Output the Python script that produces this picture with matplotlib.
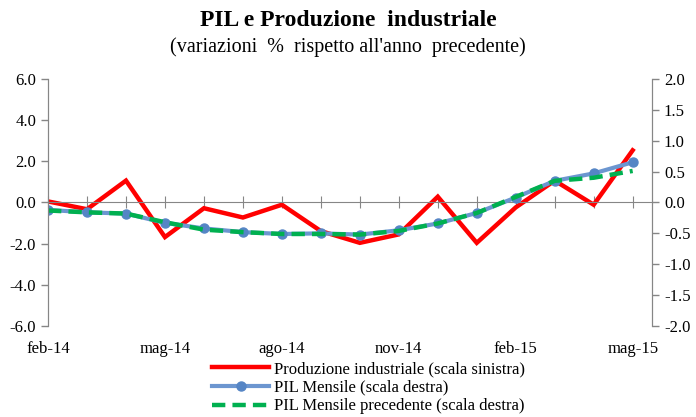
import matplotlib.pyplot as plt
import numpy as np

mesi = ["feb-14", "mar-14", "apr-14", "mag-14", "giu-14", "lug-14", "ago-14", "set-14",
        "ott-14", "nov-14", "dic-14", "gen-15", "feb-15", "mar-15", "apr-15", "mag-15"]
produzione = [0.05, -0.33, 1.06, -1.68, -0.28, -0.73, -0.11, -1.39,
              -1.96, -1.55, 0.28, -1.96, -0.24, 1.06, -0.11, 2.53]
pil = [-0.12, -0.16, -0.18, -0.33, -0.42, -0.48, -0.51, -0.50,
       -0.52, -0.45, -0.34, -0.17, 0.08, 0.35, 0.47, 0.65]
pil_prec = [-0.13, -0.16, -0.18, -0.32, -0.44, -0.48, -0.51, -0.51,
            -0.52, -0.46, -0.34, -0.17, 0.09, 0.35, 0.40, 0.51]

plt.rcParams["font.family"] = ["Liberation Serif", "DejaVu Serif"]
grigio = "#868686"

fig = plt.figure(figsize=(6.96, 4.17), dpi=100)
ax = fig.add_axes([0.069, 0.218, 0.868, 0.593])
ax2 = ax.twinx()
x = np.arange(len(mesi))

l1, = ax.plot(x, produzione, color="#FF0000", lw=3.2, solid_joinstyle="miter",
              label="Produzione industriale (scala sinistra)")
l2, = ax2.plot(x, pil, color="#6C96D0", lw=3, marker="o", ms=6.5,
               markerfacecolor="#5585C5", markeredgecolor="#5585C5",
               label="PIL Mensile (scala destra)")
l3, = ax2.plot(x, pil_prec, color="#00B050", lw=3.2, dashes=(3, 1.6),
               label="PIL Mensile precedente (scala destra)")

ax.set_xlim(0, 15.5)
ax.set_ylim(-6, 6)
ax2.set_ylim(-2, 2)
ax.set_yticks(np.arange(-6, 6.1, 2))
ax2.set_yticks(np.arange(-2, 2.01, 0.5))
ax.set_yticklabels([f"{v:.1f}" for v in np.arange(-6, 6.1, 2)])
ax2.set_yticklabels([f"{v:.1f}" for v in np.arange(-2, 2.01, 0.5)])

for a in (ax, ax2):
    a.spines["top"].set_visible(False)
    a.spines["left"].set_color(grigio)
    a.spines["right"].set_color(grigio)
    a.spines["bottom"].set_visible(False)
    a.tick_params(axis="y", colors=grigio, labelcolor="black", labelsize=12,
                  length=5, width=1)
ax.spines["bottom"].set_visible(True)
ax.spines["bottom"].set_position(("data", 0))
ax.spines["bottom"].set_color(grigio)
ax.set_xticks(x)
ax.tick_params(axis="x", direction="inout", length=8, colors=grigio,
               labelbottom=False)

sec = ax.secondary_xaxis("bottom")
sec.set_xticks(x[::3])
sec.set_xticklabels(mesi[::3])
sec.spines["bottom"].set_visible(False)
sec.tick_params(axis="x", length=0, pad=11, labelsize=12)

fig.text(0.5, 0.95, "PIL e Produzione  industriale", ha="center", va="center",
         fontsize=17, fontweight="bold")
fig.text(0.5, 0.886, "(variazioni  %  rispetto all'anno  precedente)", ha="center",
         va="center", fontsize=14.5)

fig.legend(handles=[l1, l2, l3], loc="upper left", bbox_to_anchor=(0.305, 0.134),
           frameon=False, fontsize=12, handlelength=3.4, handletextpad=0.3,
           labelspacing=0.16, borderpad=0, borderaxespad=0)

fig.savefig("out.png", dpi=100)
